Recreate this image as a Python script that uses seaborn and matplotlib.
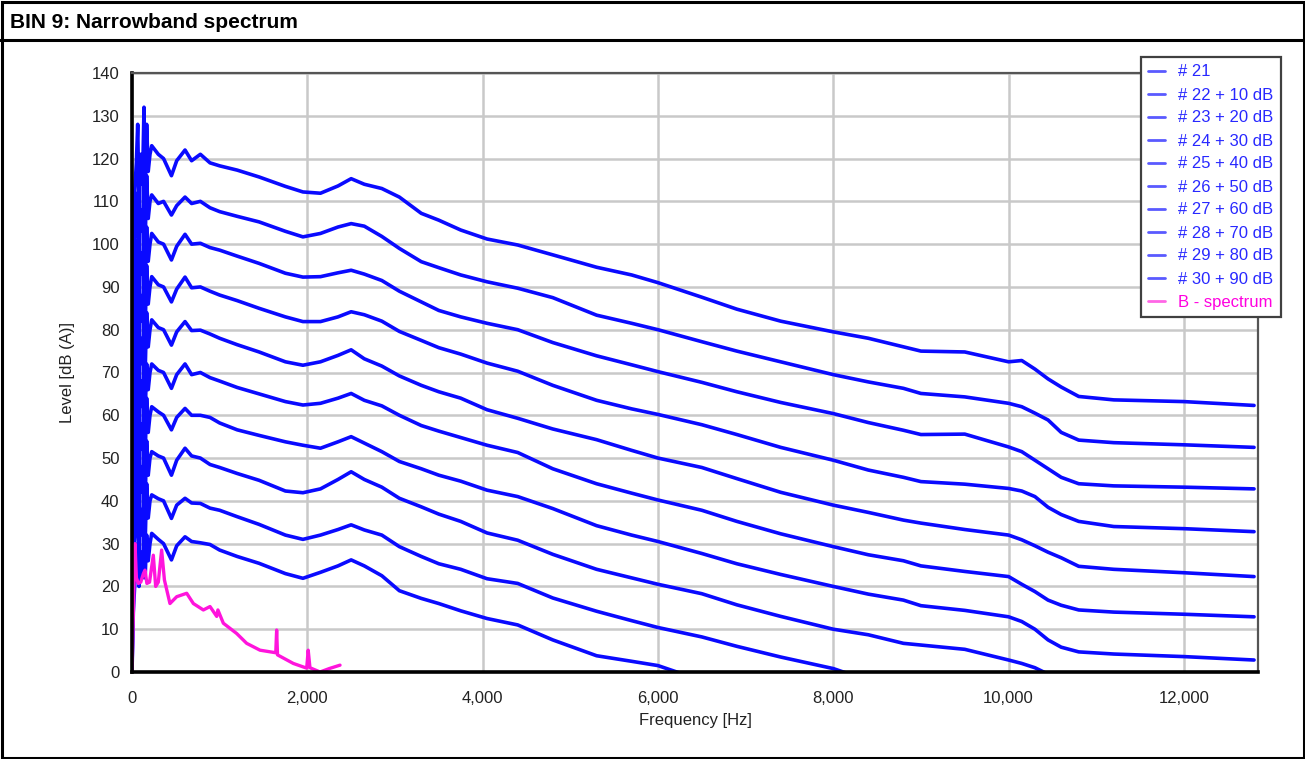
import numpy as np
import pandas as pd
import matplotlib
matplotlib.use("Agg")
import matplotlib.pyplot as plt
import seaborn as sns
from matplotlib.lines import Line2D
from matplotlib.patches import Rectangle

# ---------------- data ----------------
freq = [0, 15, 30, 50, 65, 80, 100, 120, 137, 150, 167, 185, 205, 225, 300, 360, 450, 510,
        605, 680, 780, 890, 1000, 1200, 1450, 1750, 1950, 2150, 2350, 2500, 2650, 2850,
        3050, 3300, 3500, 3750, 4050, 4400, 4800, 5300, 5700, 6000, 6500, 6900, 7400,
        8000, 8400, 8800, 9000, 9500, 10000, 10150, 10300, 10450, 10600, 10800, 11200,
        12000, 12800]

NA = np.nan
s30 = [0, 100, 112, 119, 128, 108, 121, 114, 132, 110, 128, 117, 121, 123, 121, 120, 116, 119.5,
       122, 119.5, 121, 119, 118.3, 117.3, 115.7, 113.5, 112.2, 111.9, 113.6, 115.3, 114, 113,
       111, 107.2, 105.6, 103.3, 101.2, 99.8, 97.5, 94.6, 92.8, 91, 87.6, 84.8, 82,
       79.5, 78, 76, 75, 74.8, 72.5, 72.8, 70.8, 68.5, 66.6, 64.4, 63.6,
       63.2, 62.3]
s29 = [0, 92, 100, 106, 112, 98, 108, 103, 117, 100, 116, 106, 110, 111.5, 109.5, 110, 106.8, 109,
       111, 109.5, 110, 108.5, 107.6, 106.5, 105.2, 103, 101.7, 102.5, 104, 104.8, 104.2, 101.8,
       99, 95.9, 94.5, 92.8, 91.2, 89.7, 87.5, 83.4, 81.5, 80, 77.2, 75, 72.5,
       69.5, 67.8, 66.3, 65.1, 64.3, 62.8, 62, 60.5, 58.9, 56, 54.2, 53.6,
       53.1, 52.5]
s28 = [0, 82, 90, 96, 101, 88, 98, 93, 106, 90, 104, 96, 100, 102.5, 100.5, 100, 96.3, 99.5,
       102.3, 100, 100.2, 99.2, 98.6, 97.2, 95.5, 93.2, 92.3, 92.4, 93.3, 93.9, 93, 91.5,
       89, 86.5, 84.5, 83, 81.5, 80, 77, 73.9, 71.8, 70.2, 67.7, 65.5, 63,
       60.4, 58.3, 56.5, 55.5, 55.6, 52.6, 51.5, 49.5, 47.5, 45.5, 44, 43.5,
       43.2, 42.8]
s27 = [0, 72, 80, 86, 92, 78, 88, 82, 97, 80, 95, 86, 90, 92.4, 90.5, 90, 86.5, 89.5,
       92.3, 89.8, 90, 89, 88.1, 86.8, 85, 83, 81.9, 81.9, 83, 84.2, 83.5, 82,
       79.6, 77.5, 75.8, 74.3, 72.2, 70.3, 67, 63.5, 61.5, 60.2, 57.8, 55.5, 52.5,
       49.5, 47.2, 45.5, 44.5, 43.9, 42.9, 42.3, 41, 38.5, 36.8, 35.2, 34,
       33.5, 32.8]
s26 = [0, 62, 70, 76, 82, 68, 78, 72, 86, 70, 84, 76, 80, 82.3, 80.5, 80, 76.4, 79.5,
       81.9, 79.8, 79.9, 79, 78, 76.5, 74.8, 72.5, 71.7, 72.5, 74, 75.3, 73.2, 71.5,
       69.2, 67, 65.5, 64, 61.3, 59.3, 56.8, 54.3, 51.8, 50, 47.8, 45.2, 42,
       39, 37.3, 35.5, 34.8, 33.3, 32, 30.9, 29.5, 28, 26.7, 24.7, 24,
       23.2, 22.3]
s25 = [0, 52, 60, 66, 74, 58, 68, 62, 76, 60, 72, 66, 70, 72, 70.5, 70, 66.3, 69.5,
       72, 69.5, 70, 68.8, 68, 66.5, 65, 63.2, 62.4, 62.8, 64, 65.1, 63.5, 62.2,
       60, 57.6, 56.3, 54.8, 53, 51.3, 47.5, 44, 41.8, 40.2, 37.8, 35.2, 32.3,
       29.3, 27.4, 26, 24.8, 23.5, 22.3, 20.5, 18.8, 16.8, 15.6, 14.5, 14,
       13.5, 12.9]
s24 = [0, 42, 50, 56, 62, 48, 58, 52, 68, 50, 64, 56, 60, 62, 60.8, 60, 56.6, 59.5,
       61.6, 60, 60, 59.5, 58.2, 56.6, 55.3, 53.8, 53, 52.3, 53.8, 55, 53.5, 51.5,
       49.2, 47.5, 46, 44.6, 42.5, 41, 38.2, 34.2, 32, 30.5, 27.7, 25.3, 22.8,
       20, 18.2, 16.8, 15.5, 14.4, 12.9, 11.8, 10, 7.5, 5.8, 4.7, 4.2,
       3.6, 2.8]
s23 = [0, 32, 40, 46, 52, 38, 48, 42, 58, 40, 54, 46, 50, 51.5, 50.5, 50, 46, 49.5,
       52.3, 50.5, 50, 48.5, 47.8, 46.4, 44.8, 42.3, 41.9, 42.8, 45, 46.8, 45, 43.2,
       40.6, 38.6, 36.9, 35.2, 32.5, 30.8, 27.5, 24, 22, 20.5, 18.3, 15.7, 13,
       10, 8.7, 6.7, 6.3, 5.3, 2.8, 2, 1, -0.5, -2, NA, NA,
       NA, NA]
s22 = [0, 22, 30, 36, 42, 28, 38, 32, 48, 30, 44, 36, 40, 41.4, 40.5, 40, 35.9, 39,
       40.6, 39.5, 39.4, 38.3, 37.8, 36.3, 34.5, 32, 31, 32, 33.3, 34.4, 33.2, 32,
       29.3, 27, 25.3, 24, 21.8, 20.7, 17.3, 14.2, 12, 10.4, 8.2, 6, 3.5,
       0.8, -2, NA, NA, NA, NA, NA, NA, NA, NA, NA, NA,
       NA, NA]
s21 = [0, 14, 20, 26, 30, 20, 28, 22, 36, 22, 32, 26, 30, 32.4, 31, 30, 26.2, 29.5,
       31.6, 30.5, 30.2, 29.8, 28.5, 27, 25.4, 23, 21.9, 23.3, 24.8, 26.2, 24.8, 22.5,
       19, 17.2, 16, 14.3, 12.5, 11, 7.5, 3.8, 2.5, 1.5, -2, NA, NA,
       NA, NA, NA, NA, NA, NA, NA, NA, NA, NA, NA, NA,
       NA, NA]

series_labels = ["# 21", "# 22 + 10 dB", "# 23 + 20 dB", "# 24 + 30 dB", "# 25 + 40 dB",
                 "# 26 + 50 dB", "# 27 + 60 dB", "# 28 + 70 dB", "# 29 + 80 dB", "# 30 + 90 dB"]
series_values = [s21, s22, s23, s24, s25, s26, s27, s28, s29, s30]

b_freq = [0, 20, 34, 50, 72, 100, 130, 148, 170, 200, 243, 270, 300, 338, 370, 433, 510, 624,
          700, 814, 890, 966, 980, 1042, 1194, 1308, 1460, 1640, 1650, 1660, 1840, 1993, 2010,
          2030, 2145, 2250, 2373]
b_level = [0, 18, 30, 22, 20.7, 21, 23, 23.8, 20.7, 21, 27.3, 20, 21, 28.5, 21.5, 16, 17.6, 18.4,
           16, 14.5, 15.3, 13, 14.5, 11.4, 9, 6.7, 5.1, 4.5, 9.8, 4, 2, 0.9, 5.1,
           1, 0, 0.8, 1.6]
b_label = "B - spectrum"

x_ticks = [0, 2000, 4000, 6000, 8000, 10000, 12000]
y_ticks = list(range(0, 141, 10))

# ---------------- build tables ----------------
rows = []
for lab, vals in zip(series_labels, series_values):
    for f, v in zip(freq, vals):
        rows.append((lab, f, v))
df = pd.DataFrame(rows, columns=["series", "freq", "level"]).dropna()
dfb = pd.DataFrame({"freq": b_freq, "level": b_level})

BLUE = "#0a0aff"
PINK = "#ff14dc"

# ---------------- figure ----------------
sns.set_theme(style="white")
plt.rcParams["font.family"] = ["Liberation Sans", "DejaVu Sans"]

W, H = 1305, 759
fig = plt.figure(figsize=(W / 100, H / 100), dpi=100)
fig.patch.set_facecolor("white")

x0, x1, y0, y1 = 132, 1258, 73, 672
ax = fig.add_axes([x0 / W, 1 - y1 / H, (x1 - x0) / W, (y1 - y0) / H])

sns.lineplot(data=df, x="freq", y="level", hue="series", palette=[BLUE] * 10,
             estimator=None, sort=False, legend=False, lw=2.6, ax=ax)
sns.lineplot(data=dfb, x="freq", y="level", color=PINK, estimator=None, sort=False,
             lw=2.4, ax=ax)

ax.set_xlim(0, 12845)
ax.set_ylim(0, 140)
ax.set_xticks(x_ticks)
ax.set_xticklabels([f"{t:,}" for t in x_ticks])
ax.set_yticks(y_ticks)
ax.grid(True, color="#c9c9c9", lw=1.8)
ax.set_axisbelow(True)
ax.tick_params(axis="both", which="major", labelsize=12, colors="#8a8a8a",
               labelcolor="#222222", length=4, width=1, direction="out")
ax.tick_params(axis="x", pad=10)
ax.tick_params(axis="y", pad=5)
for side in ("left", "bottom"):
    ax.spines[side].set_color("black")
    ax.spines[side].set_linewidth(2.6)
for side in ("top", "right"):
    ax.spines[side].set_color("#555555")
    ax.spines[side].set_linewidth(1.6)
ax.set_xlabel("Frequency [Hz]", fontsize=12, color="#222222", labelpad=5)
ax.set_ylabel("Level [dB (A)]", fontsize=12, color="#222222", labelpad=12)

# legend
handles = [Line2D([0], [0], color="#5a5aff", lw=2) for _ in series_labels]
handles.append(Line2D([0], [0], color="#ff66e6", lw=2))
leg = fig.legend(handles, series_labels + [b_label], loc="upper right",
                 bbox_to_anchor=(1281 / W, 1 - 57 / H), fontsize=12, frameon=True,
                 fancybox=False, shadow=False, handlelength=1.0, handletextpad=0.8,
                 labelspacing=0.48, borderpad=0.45, borderaxespad=0)
leg.get_frame().set_edgecolor("#404040")
leg.get_frame().set_linewidth(1.6)
leg.get_frame().set_alpha(1)
for i, t in enumerate(leg.get_texts()):
    t.set_color("#2828ff" if i < 10 else "#ff00e0")

# title bar and outer border
fig.text(10 / W, 1 - 22 / H, "BIN 9: Narrowband spectrum", fontsize=15, fontweight="bold",
         ha="left", va="center", color="black")
fig.add_artist(Line2D([0, 1], [1 - 39.5 / H, 1 - 39.5 / H], transform=fig.transFigure,
                      color="black", lw=2.2))
fig.add_artist(Rectangle((1.5 / W, 1.5 / H), (W - 3) / W, (H - 3) / H, transform=fig.transFigure,
                         fill=False, ec="black", lw=2.2))

fig.savefig("out.png", dpi=100)
